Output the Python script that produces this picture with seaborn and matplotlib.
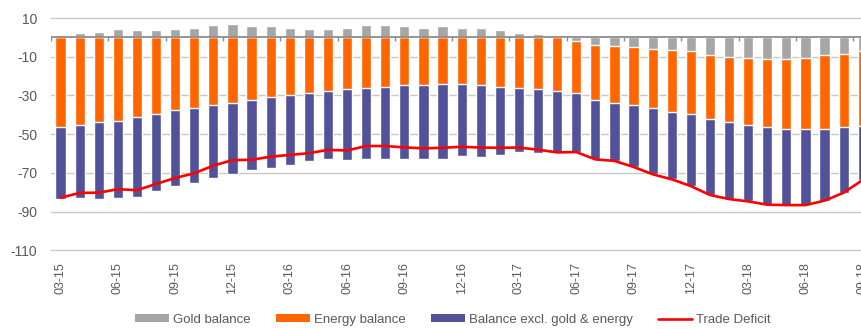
import numpy as np
import pandas as pd
import matplotlib
matplotlib.use("Agg")
import matplotlib.pyplot as plt
import seaborn as sns
from matplotlib.patches import Patch
from matplotlib.lines import Line2D

months = ["03-15", "04-15", "05-15", "06-15", "07-15", "08-15", "09-15", "10-15", "11-15", "12-15",
          "01-16", "02-16", "03-16", "04-16", "05-16", "06-16", "07-16", "08-16", "09-16", "10-16",
          "11-16", "12-16", "01-17", "02-17", "03-17", "04-17", "05-17", "06-17", "07-17", "08-17",
          "09-17", "10-17", "11-17", "12-17", "01-18", "02-18", "03-18", "04-18", "05-18", "06-18",
          "07-18", "08-18", "09-18"]

gold = [1.0, 2.2, 2.9, 4.3, 3.6, 3.6, 4.3, 5.0, 6.4, 7.1,
        5.7, 5.7, 5.0, 4.3, 4.3, 5.0, 6.4, 6.4, 5.7, 5.0,
        5.7, 5.0, 5.0, 3.6, 2.2, 1.5, 0.3, -1.7, -4.0, -4.5,
        -5.2, -5.9, -6.5, -7.2, -9.3, -10.0, -10.7, -11.4, -11.4, -10.7,
        -9.3, -8.6, -7.2]

energy = [-46.5, -45.3, -43.9, -43.2, -41.1, -39.8, -37.7, -36.3, -34.9, -33.7,
          -32.2, -30.8, -29.6, -28.9, -27.5, -26.9, -26.2, -25.5, -24.8, -24.8,
          -24.1, -24.1, -24.8, -25.5, -26.2, -26.9, -27.5, -27.2, -28.4, -29.2,
          -29.9, -30.4, -31.9, -32.6, -33.0, -33.9, -34.6, -35.1, -35.8, -36.5,
          -37.9, -37.9, -38.6]

other = [-37.1, -37.7, -39.7, -39.8, -41.2, -39.7, -39.1, -39.1, -37.9, -37.0,
         -36.5, -36.5, -36.3, -35.1, -35.2, -36.4, -36.5, -37.2, -37.9, -37.9,
         -38.6, -37.2, -37.2, -35.1, -33.0, -33.0, -31.7, -30.1, -30.6, -30.0,
         -31.7, -34.4, -34.9, -37.0, -39.1, -39.6, -39.4, -39.9, -39.4, -39.4,
         -37.1, -33.7, -27.8]

deficit = [-82.8, -80.3, -80.2, -78.4, -78.9, -75.7, -72.6, -70.2, -66.2, -63.4,
           -63.2, -61.6, -60.7, -59.8, -58.1, -58.4, -56.1, -56.1, -56.8, -57.3,
           -57.0, -56.5, -56.9, -57.0, -56.9, -58.0, -59.4, -59.2, -63.0, -63.8,
           -66.9, -70.7, -73.3, -76.8, -81.4, -83.5, -84.7, -86.4, -86.6, -86.6,
           -84.3, -80.2, -73.6]

C_GOLD = "#A6A6A6"
C_ENERGY = "#FF6600"
C_OTHER = "#52529A"
C_LINE = "#FF0000"
C_TEXT = "#595959"

df = pd.DataFrame({"month": months, "gold": gold, "energy": energy,
                   "other": other, "deficit": deficit})
neg_gold = df["gold"].clip(upper=0)
df["lvl_other"] = neg_gold + df["energy"] + df["other"]
df["lvl_energy"] = neg_gold + df["energy"]

sns.set_style("white")
plt.rcParams["font.family"] = ["Liberation Sans", "DejaVu Sans"]

fig = plt.figure(figsize=(8.62, 3.29), dpi=100)
W, H = 862, 329
y0, y1 = -111, 11
ppu = 1.9367
top_px = 18 - (y1 - 10) * ppu
h_px = (y1 - y0) * ppu
left_px = 51
w_px = 43 * 19.1
ax = fig.add_axes([left_px / W, 1 - (top_px + h_px) / H, w_px / W, h_px / H])

bw = 0.53
sns.barplot(data=df, x="month", y="lvl_other", order=months, color=C_OTHER,
            saturation=1, width=bw, ax=ax, zorder=2, errorbar=None)
sns.barplot(data=df, x="month", y="lvl_energy", order=months, color=C_ENERGY,
            saturation=1, width=bw, ax=ax, zorder=2, errorbar=None)
sns.barplot(data=df, x="month", y="gold", order=months, color=C_GOLD,
            saturation=1, width=bw, ax=ax, zorder=2, errorbar=None)

xs = np.arange(len(months))
sns.lineplot(x=xs, y=df["deficit"].values, color=C_LINE, linewidth=1.9, ax=ax,
             zorder=5)

ax.set_xlim(-0.5, len(months) - 0.5)
ax.set_ylim(y0, y1)

# zero line with category tick marks
ax.axhline(0, color="#8C8C8C", linewidth=1.3, zorder=3)
ax.vlines(np.arange(-0.5, len(months), 3), -2.0, 0, color="#8C8C8C",
          linewidth=1.0, zorder=3)

yt = [10, -10, -30, -50, -70, -90, -110]
ax.set_yticks(yt)
ax.set_yticklabels([str(v) for v in yt])
ax.yaxis.grid(True, color="#C8C8C8", linewidth=1.0, zorder=0)
ax.set_axisbelow(True)

ax.set_xticks(xs[::3])
ax.set_xticklabels(months[::3], rotation=90)
ax.tick_params(axis="x", length=0, pad=7, labelsize=9, labelcolor=C_TEXT)
ax.tick_params(axis="y", length=0, pad=10, labelsize=10, labelcolor=C_TEXT)
ax.set_xlabel("")
ax.set_ylabel("")
for s in ax.spines.values():
    s.set_visible(False)

handles = [Patch(facecolor=C_GOLD, edgecolor="none"),
           Patch(facecolor=C_ENERGY, edgecolor="none"),
           Patch(facecolor=C_OTHER, edgecolor="none"),
           Line2D([0], [0], color=C_LINE, linewidth=1.9)]
labels = ["Gold balance", "Energy balance", "Balance excl. gold & energy", "Trade Deficit"]
fig.legend(handles, labels, loc="center", bbox_to_anchor=(453 / W, 1 - 320 / H),
           ncol=4, frameon=False, fontsize=9.5, labelcolor=C_TEXT,
           handlelength=2.6, handleheight=0.55, handletextpad=0.3,
           columnspacing=1.9)

fig.savefig("out.png", dpi=100)
